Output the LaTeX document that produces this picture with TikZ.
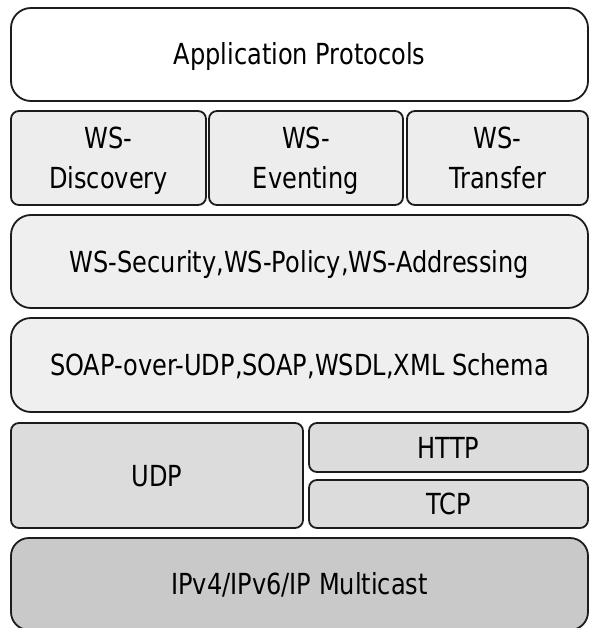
\documentclass[tikz,border=0pt]{standalone}
\usepackage{fontspec}
\setmainfont[FakeStretch=0.83]{DejaVu Sans}
\definecolor{stkline}{HTML}{1C1C1C}
\definecolor{stkwhite}{HTML}{FFFFFF}
\definecolor{stkws}{HTML}{EDEDED}
\definecolor{stkmsg}{HTML}{EFEFEF}
\definecolor{stktrans}{HTML}{DCDCDC}
\definecolor{stknet}{HTML}{C9C9C9}
\tikzset{
	layer/.style={draw=stkline, line width=1.8pt, rectangle, align=center,
		inner sep=0pt, text=black, text depth=0pt, font=\fontsize{29}{40}\selectfont},
	widelayer/.style={layer, rounded corners=20pt, minimum width=577pt, text height=21pt},
	boxlayer/.style={layer, rounded corners=8pt, fill=stktrans, text height=21pt},
	wslayer/.style={layer, rounded corners=8pt, fill=stkws, minimum height=94pt}
}
\begin{document}
\begin{tikzpicture}[x=1pt, y=-1pt]
	\useasboundingbox (0,0) rectangle (590,628);
	% application layer
	\node[widelayer, fill=stkwhite, minimum height=93pt] (app) at (299.5,54.5) {Application Protocols};
	% ws row
	\node[wslayer, minimum width=195pt] (disc) at (108.5,158) {WS-\\Discovery};
	\node[wslayer, minimum width=194pt] (event) at (306,158) {WS-\\Eventing};
	\node[wslayer, minimum width=181pt] (transfer) at (497.5,158) {WS-\\Transfer};
	% messaging
	\node[widelayer, fill=stkmsg, minimum height=93pt] (sec) at (299.5,261.5) {WS-Security,WS-Policy,WS-Addressing};
	\node[widelayer, fill=stkmsg, minimum height=94pt] (soap) at (299.5,365) {SOAP-over-UDP,SOAP,WSDL,XML Schema};
	% transport
	\node[boxlayer, minimum width=292pt, minimum height=105pt] (udp) at (157,475.5) {UDP};
	\node[boxlayer, minimum width=279pt, minimum height=49pt] (http) at (448.5,447.5) {HTTP};
	\node[boxlayer, minimum width=279pt, minimum height=48pt] (tcp) at (448.5,504) {TCP};
	% network
	\node[widelayer, rounded corners=18pt, fill=stknet, minimum height=92pt] (ip) at (299.5,584) {IPv4/IPv6/IP Multicast};
\end{tikzpicture}
\end{document}
